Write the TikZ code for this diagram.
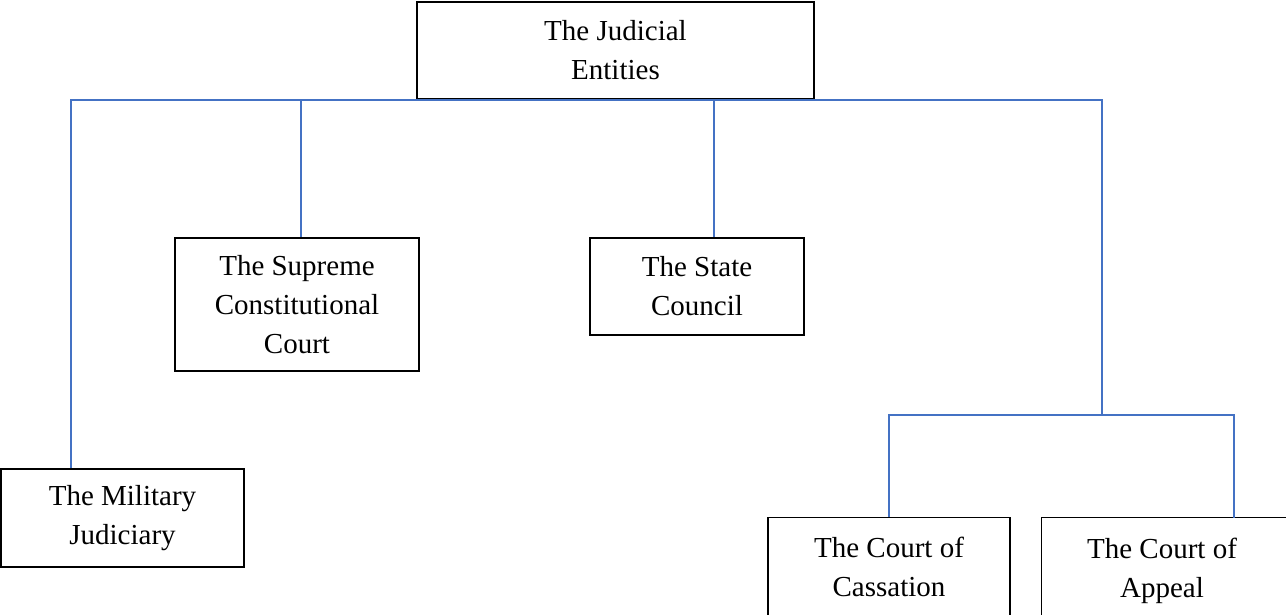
\documentclass[tikz,border=0pt]{standalone}
\usepackage{fontspec}
\setmainfont{Liberation Serif}
\begin{document}
\begin{tikzpicture}[x=1pt,y=-1pt,
  boxline/.style={draw=black,line width=1.3pt},
  box/.style={boxline,align=center,inner sep=0pt,
              font=\fontsize{29}{39}\selectfont},
  plain/.style={align=center,inner sep=0pt,
              font=\fontsize{29}{39}\selectfont},
  conn/.style={draw={rgb,255:red,68;green,114;blue,196},line width=1.2pt}]
\useasboundingbox (0,0) rectangle (1286,616);
\clip (0,0) rectangle (1286,614.2);
\node[box,minimum width=397pt,minimum height=97pt] (top) at (615.5,50.5) {The Judicial\\Entities};
\node[box,minimum width=244pt,minimum height=133pt] (sup) at (297,304.5) {The Supreme\\Constitutional\\Court};
\node[box,minimum width=214pt,minimum height=97pt] (state) at (697,286.5) {The State\\Council};
\node[box,minimum width=243pt,minimum height=98pt] (mil) at (122.5,518) {The Military\\Judiciary};
\node[box,minimum width=242pt,minimum height=98pt] (cass) at (889,566.5) {The Court of\\Cassation};
\node[plain,minimum width=240pt,minimum height=106pt] (app) at (1162,571) {The Court of\\Appeal};
\draw[boxline] (app.north west) rectangle (1292,625);
\coordinate (busL) at (71,100);
\coordinate (busR) at (1102,100);
\coordinate (sub) at (1102,415);
\coordinate (subR) at (1234,415);
\coordinate (supJ) at (301,100);
\coordinate (stJ) at (714,100);
\draw[conn] (mil.north -| busL) -- (busL) -- (busR) -- (sub);
\draw[conn] (supJ) -- (supJ |- sup.north);
\draw[conn] (stJ) -- (stJ |- state.north);
\draw[conn] (cass.north) -- (cass.north |- sub) -- (subR) -- (subR |- app.north);
\end{tikzpicture}
\end{document}
